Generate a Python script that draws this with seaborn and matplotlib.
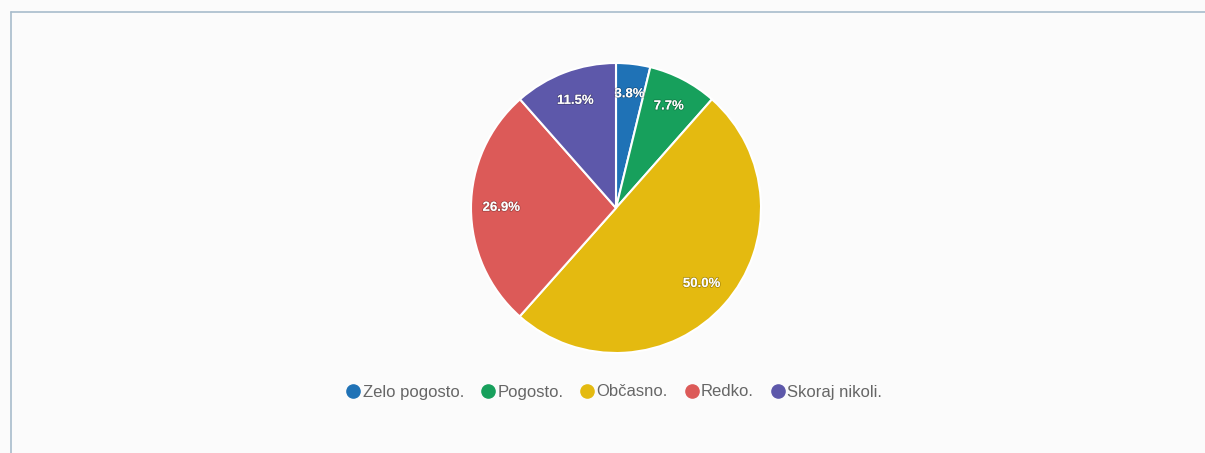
import matplotlib
matplotlib.use("Agg")
import matplotlib.pyplot as plt
import matplotlib.patheffects as pe
from matplotlib.lines import Line2D
import seaborn as sns

# data
labels = ["Zelo pogosto.", "Pogosto.", "Občasno.", "Redko.", "Skoraj nikoli."]
shares = [3.8, 7.7, 50.0, 26.9, 11.5]
colors = ["#1f72b6", "#17a05c", "#e4ba10", "#dc5a58", "#5d58aa"]

sns.set_theme(style="white")
plt.rcParams['font.family'] = ['Liberation Sans', 'DejaVu Sans']

W, H = 1205, 453
fig = plt.figure(figsize=(W / 100, H / 100), dpi=100)
fig.patch.set_facecolor("#fbfbfb")

# pie: centre (616,208), radius ~145 px
cx, cy, r = 616, 208, 145
ax = fig.add_axes([(cx - r) / W, (H - cy - r) / H, 2 * r / W, 2 * r / H])
wedges, texts = ax.pie(shares, colors=colors, startangle=90, counterclock=False,
                       labels=[f"{v:.1f}%" for v in shares], labeldistance=0.79,
                       wedgeprops=dict(edgecolor="white", linewidth=1.5),
                       textprops=dict(color="white", fontsize=9.5, fontweight="bold",
                                      ha="center", va="center"))
for t in texts:
    t.set_horizontalalignment("center")
    t.set_path_effects([pe.withStroke(linewidth=1.2, foreground=(0, 0, 0, 0.25))])
ax.set_aspect("equal")
ax.set_xlim(-1, 1)
ax.set_ylim(-1, 1)
ax.axis("off")

# legend
handles = [Line2D([0], [0], marker="o", linestyle="", markersize=9.5,
                  markerfacecolor=c, markeredgecolor=c) for c in colors]
fig.legend(handles, labels, loc="center", bbox_to_anchor=(614 / W, 1 - 392 / H),
           ncol=5, frameon=False, fontsize=12, handlelength=0.9, handletextpad=0.1,
           columnspacing=1.0, labelcolor="#666666")

# border lines of the panel (top and left visible)
fig.add_artist(Line2D([10.5 / W, 1], [1 - 11.5 / H, 1 - 11.5 / H], color="#a8bccb", lw=1.2))
fig.add_artist(Line2D([10.5 / W, 10.5 / W], [0, 1 - 11.5 / H], color="#a8bccb", lw=1.2))

fig.savefig("out.png", dpi=100, facecolor=fig.get_facecolor())
